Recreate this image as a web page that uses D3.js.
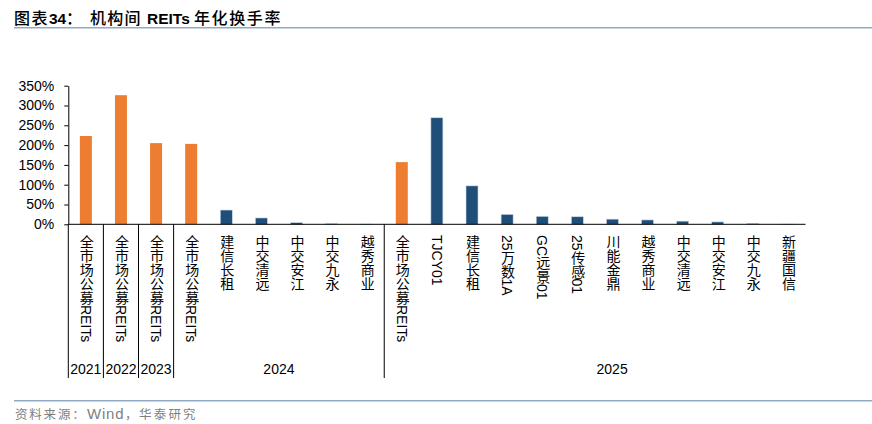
<!DOCTYPE html>
<html><head><meta charset="utf-8">
<script src="https://cdn.jsdelivr.net/npm/d3@7"></script>
<style>
body{margin:0;background:#fff;}
text{font-family:"Liberation Sans",Arial,"Noto Sans CJK SC",sans-serif;}
</style></head>
<body><svg id="c" width="872" height="424"></svg>
<script>
const categories = ["全市场公募REITs","全市场公募REITs","全市场公募REITs",
  "全市场公募REITs","建信长租","中交清远","中交安江","中交九永","越秀商业",
  "全市场公募REITs","TJCY01","建信长租","25万数1A","GC远景01","25传感01","川能金鼎","越秀商业","中交清远","中交安江","中交九永","新疆国信"];
const years = ["2021","2022","2023","2024","2025"];
const yearSizes = [1,1,1,6,12];
const values = [223,326,205,203,36,16,4,1.5,0.5,157,269,97,25,20,19,13,11,8,6,2,0.5];
const yTicks = [0,50,100,150,200,250,300,350];

const svg = d3.select("#c");
const x = d3.scaleBand().domain(d3.range(categories.length)).range([68.3,805.5]);
const y = d3.scaleLinear().domain([0,350]).range([224.3,85.7]);

const CJK = "'Noto Sans CJK SC',sans-serif", LAT = "'Liberation Sans',Arial,sans-serif";

// title
const t = svg.append("text").attr("y",24).attr("fill","#000");
[["图表",14,CJK,500,1.5,16],["34",49,LAT,"bold",0,15.5],["：",66,CJK,500,0,16],
 ["机构间",90,CJK,500,1.2,16],["REITs",147,LAT,"bold",0,15.5],["年化换手率",194,CJK,500,1.6,16]]
 .forEach(([s,xx,f,w,ls,fs])=>t.append("tspan").attr("x",xx).style("font-family",f).attr("font-size",fs).attr("font-weight",w).attr("letter-spacing",ls).text(s));
svg.append("line").attr("x1",14).attr("x2",872).attr("y1",27.8).attr("y2",27.8).attr("stroke","#8FA9C6").attr("stroke-width",1.6);

// y axis
const ya = svg.append("g").attr("transform","translate(68.3,0)")
  .call(d3.axisLeft(y).tickValues(yTicks).tickFormat(d=>d+"%").tickSize(4).tickSizeOuter(0));
ya.select(".domain").attr("stroke","#000");
ya.selectAll("text").attr("font-size",14).attr("fill","#000").attr("x",-14).style("font-family",LAT);

// bars
svg.selectAll("rect.bar").data(values).join("rect").attr("class","bar")
  .attr("x",(d,i)=>x(i)+x.bandwidth()/2-6).attr("width",12)
  .attr("y",d=>y(d)).attr("height",d=>y(0)-y(d))
  .attr("fill",(d,i)=>categories[i]==="全市场公募REITs"?"#ED7D31":"#1F4E79")
  .attr("stroke",(d,i)=>categories[i]==="全市场公募REITs"?"none":"#C9D6E6").attr("stroke-width",0.6);

// x axis line
svg.append("line").attr("x1",68.3).attr("x2",805.5).attr("y1",224.3).attr("y2",224.3).attr("stroke","#000").attr("stroke-width",1);

// category labels (vertical)
svg.selectAll("text.cat").data(categories).join("text").attr("class","cat")
  .attr("x",(d,i)=>x(i)+x.bandwidth()/2).attr("y",235)
  .attr("font-size",14).attr("fill","#000")
  .style("writing-mode","vertical-rl").style("text-orientation","mixed")
  .style("font-family","'Liberation Sans','Noto Sans CJK SC',sans-serif")
  .text(d=>d);

// group separators and years
let start = 0;
const bounds = [];
yearSizes.forEach((n,gi)=>{ bounds.push([start,start+n]); start+=n; });
bounds.forEach(([a,b],gi)=>{
  const x0 = x(a);
  svg.append("line").attr("x1",x0).attr("x2",x0).attr("y1",224.3).attr("y2",378).attr("stroke","#000").attr("stroke-width",1);
  let xe = b<categories.length ? x(b) : 840;
  svg.append("text").attr("x",(x0+xe)/2).attr("y",374).attr("text-anchor","middle")
    .attr("font-size",14).attr("fill","#000").style("font-family",LAT).text(years[gi]);
});

// source
svg.append("line").attr("x1",14).attr("x2",872).attr("y1",400.8).attr("y2",400.8).attr("stroke","#8FA9C6").attr("stroke-width",1.6);
const s = svg.append("text").attr("y",419).attr("fill","#7f7f7f");
[["资料来源：",15,CJK,1.8,12.5],["Wind",87,LAT,0.8,15],["，",125,CJK,0,12.5],["华泰研究",139,CJK,2.2,12.5]]
 .forEach(([str,xx,f,ls,fs])=>s.append("tspan").attr("x",xx).style("font-family",f).attr("letter-spacing",ls).attr("font-size",fs).text(str));
</script></body></html>
